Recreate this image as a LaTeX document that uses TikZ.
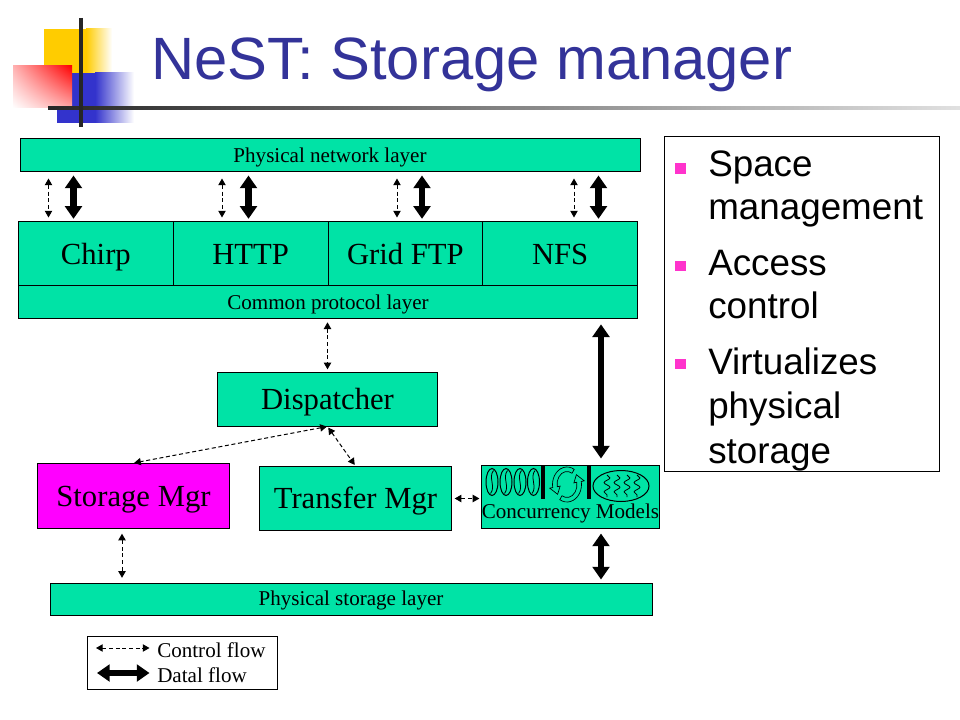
\documentclass[tikz,border=0pt]{standalone}
\usepackage{fontspec}
\setmainfont{Liberation Serif}
\newfontfamily\arialf{Liberation Sans}
\usetikzlibrary{arrows.meta,decorations.pathmorphing,calc,shadings}
\definecolor{tealbox}{RGB}{0,227,166}
\definecolor{magbox}{RGB}{255,0,255}
\definecolor{titleblue}{RGB}{51,51,153}
\definecolor{bulletpink}{RGB}{255,51,204}
\definecolor{logoyellow}{RGB}{255,204,0}
\definecolor{logoblue}{RGB}{51,51,204}
\begin{document}
\begin{tikzpicture}[x=0.75pt,y=-0.75pt,
  box/.style={draw=black, line width=0.75pt, fill=tealbox, inner sep=0pt, text depth=0pt},
  big/.style={font=\fontsize{23}{26}\selectfont, text height=15.2pt},
  small/.style={font=\fontsize{15.8}{18}\selectfont, text height=10.4pt},
  ctrl/.style={line width=0.75pt, dash pattern=on 3pt off 2pt, {Triangle[width=5.5pt,length=5pt]}-{Triangle[width=5.5pt,length=5pt]}},
  dataflow/.style={line width=5pt, {Triangle[width=12.5pt,length=9.5pt]}-{Triangle[width=12.5pt,length=9.5pt]}},
  bul/.style={font=\arialf\fontsize{27.6}{32}\selectfont, anchor=base west, inner sep=0pt},
  bsq/.style={fill=bulletpink, minimum size=8pt, inner sep=0pt},
  band/.style={fill=tealbox, draw=black, line width=0.5pt},
]
\useasboundingbox (0,0) rectangle (960,720);
\fill[white] (0,0) rectangle (960,720);

% logo
\fill[logoyellow] (44,29) rectangle (86,73);
\shade[left color=logoyellow, right color=white] (86,29) rectangle (112,73);
\fill[logoblue] (57,73) rectangle (95,123);
\shade[left color=logoblue, right color=white] (95,73) rectangle (134,123);
\shade[upper left=red!30, upper right=red, lower left=white, lower right=red!35] (13,66) rectangle (72,108);
\shade[left color=black!85, right color=black!12] (48,106.5) rectangle (960,109.5);
\draw[line width=2.5pt, black!85] (81,18) -- (81,127);

% title
\node[anchor=base west, inner sep=0pt, font=\arialf\fontsize{44.8}{48}\selectfont, text=titleblue] (title) at (151,80) {NeST: Storage manager};

% boxes
\node[box, small, minimum width=465pt, minimum height=24.75pt] (net) at (330,155.5) {Physical network layer};
\node[box, big, minimum width=116.06pt, minimum height=48pt] (chirp) at (95.875,254) {Chirp};
\node[box, big, minimum width=116.06pt, minimum height=48pt] (http) at (250.625,254) {HTTP};
\node[box, big, minimum width=116.06pt, minimum height=48pt] (gftp) at (405.375,254) {Grid FTP};
\node[box, big, minimum width=116.06pt, minimum height=48pt] (nfs) at (560.125,254) {NFS};
\node[box, small, minimum width=464.25pt, minimum height=24.375pt] (common) at (328,302.25) {Common protocol layer};
\node[box, big, minimum width=165pt, minimum height=40.125pt] (disp) at (327.5,399.25) {Dispatcher};
\node[box, big, fill=magbox, minimum width=144pt, minimum height=48.75pt] (smgr) at (133.5,496) {Storage Mgr};
\node[box, big, minimum width=144pt, minimum height=48pt] (tmgr) at (355.5,498.5) {Transfer Mgr};
\node[box, minimum width=133.125pt, minimum height=47.625pt] (conc) at (570.25,496.75) {};
\node[box, small, minimum width=451.5pt, minimum height=24pt] (slayer) at (351,599) {Physical storage layer};

% concurrency icons
\foreach \cx in {492,506,520,533.5} {
  \draw[line width=0.75pt] (\cx,482) ellipse [x radius=6, y radius=13.5];
  \draw[line width=0.6pt] (\cx+1.5,470.5) .. controls (\cx-4,477) and (\cx+4,487) .. (\cx-1.5,493.5);
}
\draw[line width=3pt] (543,465) -- (543,499);
\draw[line width=3pt] (588.5,465) -- (588.5,499);
% circular arrows (two curved band arrows)
\filldraw[band] ([shift={(567,484.5)}]-60:14.5 and 17.5) arc[start angle=-60, end angle=-190, x radius=14.5, y radius=17.5]
  -- ([shift={(567,484.5)}]-190:17.5 and 21) -- ([shift={(567,484.5)}]-220:12.25 and 15.25)
  -- ([shift={(567,484.5)}]-190:7 and 9.5) -- ([shift={(567,484.5)}]-190:10 and 13)
  arc[start angle=-190, end angle=-60, x radius=10, y radius=13] -- cycle;
\filldraw[band] ([shift={(567,484.5)}]-240:14.5 and 17.5) arc[start angle=-240, end angle=-370, x radius=14.5, y radius=17.5]
  -- ([shift={(567,484.5)}]-370:17.5 and 21) -- ([shift={(567,484.5)}]-400:12.25 and 15.25)
  -- ([shift={(567,484.5)}]-370:7 and 9.5) -- ([shift={(567,484.5)}]-370:10 and 13)
  arc[start angle=-370, end angle=-240, x radius=10, y radius=13] -- cycle;
\draw[line width=0.75pt] (621,486) ellipse [x radius=28, y radius=15.5];
\foreach \wx in {607,617,627,637} {
  \draw[line width=0.6pt, decorate, decoration={snake, amplitude=2.2pt, segment length=7pt}] (\wx,475) -- (\wx,497);
}
\node[small, inner sep=0pt, anchor=base] (conclabel) at (570.5,518) {Concurrency Models};

% arrows top
\coordinate (x1) at (48.5,0);
\coordinate (x2) at (222,0);
\coordinate (x3) at (397,0);
\coordinate (x4) at (574,0);
\coordinate (t1) at (73.5,0);
\coordinate (t2) at (248.5,0);
\coordinate (t3) at (422,0);
\coordinate (t4) at (598.5,0);
\draw[ctrl, shorten <=4.5pt, shorten >=3pt] (net.south -| x1) -- (chirp.north -| x1);
\draw[ctrl, shorten <=4.5pt, shorten >=3pt] (net.south -| x2) -- (http.north -| x2);
\draw[ctrl, shorten <=4.5pt, shorten >=3pt] (net.south -| x3) -- (gftp.north -| x3);
\draw[ctrl, shorten <=4.5pt, shorten >=3pt] (net.south -| x4) -- (nfs.north -| x4);
\draw[dataflow, shorten <=2.25pt, shorten >=2pt] (net.south -| t1) -- (chirp.north -| t1);
\draw[dataflow, shorten <=2.25pt, shorten >=2pt] (net.south -| t2) -- (http.north -| t2);
\draw[dataflow, shorten <=2.25pt, shorten >=2pt] (net.south -| t3) -- (gftp.north -| t3);
\draw[dataflow, shorten <=2.25pt, shorten >=2pt] (net.south -| t4) -- (nfs.north -| t4);

% middle arrows
\draw[ctrl, shorten <=2.5pt, shorten >=2pt] (common.south -| disp.north) -- (disp.north);
\coordinate (rx) at (601,0);
\draw[dataflow, shorten <=4pt, shorten >=4.5pt] (common.south -| rx) -- (conc.north -| rx);
\draw[dataflow, shorten <=3.4pt, shorten >=2.25pt] (conc.south -| rx) -- (slayer.north -| rx);
\draw[ctrl, shorten <=0.5pt, shorten >=0.5pt] (disp.south) -- (smgr.north);
\draw[ctrl, shorten <=1pt, shorten >=1pt] (disp.south) -- (tmgr.north);
\draw[ctrl, shorten <=2pt, shorten >=1.2pt] (tmgr.east) -- (tmgr.east -| conc.west);
\coordinate (sl) at (122,0);
\draw[ctrl, shorten <=3.5pt, shorten >=3.5pt] (smgr.south -| sl) -- (slayer.north -| sl);

% right panel
\node[draw=black, line width=0.75pt, minimum width=206.6pt, minimum height=251.25pt, inner sep=0pt] (panel) at (802.25,304) {};
\node[bsq] (b1) at (680.5,168.5) {};
\node[bsq] (b2) at (680.5,266) {};
\node[bsq] (b3) at (680.5,364) {};
\node[bul] (l1) at (708,177) {Space};
\node[bul] (l2) at (708,220) {management};
\node[bul] (l3) at (708,276) {Access};
\node[bul] (l4) at (708,319) {control};
\node[bul] (l5) at (708,374) {Virtualizes};
\node[bul] (l6) at (708,418) {physical};
\node[bul] (l7) at (708,463) {storage};

% legend
\node[draw=black, line width=0.75pt, minimum width=142.5pt, minimum height=39.75pt, inner sep=0pt] (legend) at (182,662.5) {};
\node[small, anchor=base west, inner sep=0pt] (lc) at (157,657) {Control flow};
\node[small, anchor=base west, inner sep=0pt] (ld) at (157,682) {Datal flow};
\coordinate (lc1) at (96,648);
\coordinate (lc2) at (149.5,648);
\coordinate (ld1) at (97,673);
\coordinate (ld2) at (149.5,673);
\draw[ctrl] (lc1) -- (lc2);
\draw[dataflow] (ld1) -- (ld2);
\end{tikzpicture}
\end{document}
